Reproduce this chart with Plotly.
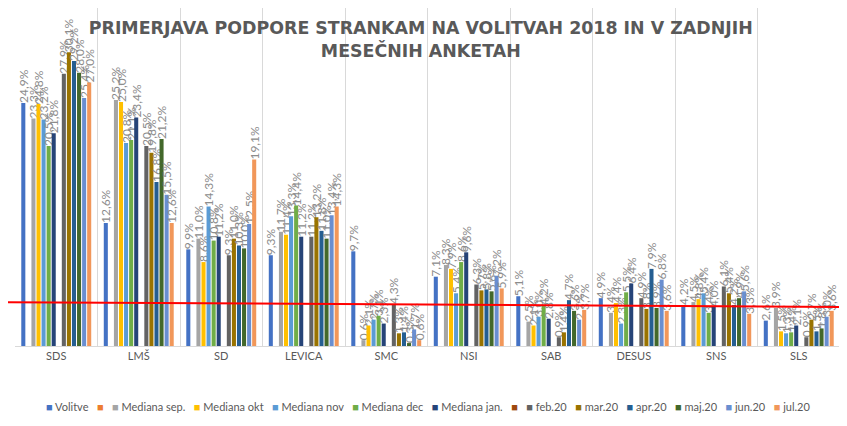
import plotly.graph_objects as go

stranke = ["SDS", "LMŠ", "SD", "LEVICA", "SMC", "NSI", "SAB", "DESUS", "SNS", "SLS"]

volitve = [24.9, 12.6, 9.9, 9.3, 9.7, 7.1, 5.1, 4.9, 4.2, 2.6]
med_sep = [23.3, 25.2, 11.0, 11.7, 0.6, 8.3, 2.5, 3.4, 4.5, 3.9]
med_okt = [24.8, 25.0, 8.6, 11.4, 2.1, 7.9, 2.1, 4.4, 4.8, 1.5]
med_nov = [23.2, 20.8, 14.3, 13.3, 2.7, 5.4, 3.0, 2.3, 5.4, 1.3]
med_dec = [20.5, 21.1, 10.8, 14.4, 3.1, 8.6, 4.2, 5.5, 3.4, 1.4]
med_jan = [21.8, 23.4, 11.2, 11.2, 2.3, 9.6, 2.8, 6.4, 4.0, 2.1]
feb20 = [27.9, 20.5, 9.3, 11.2, 4.3, 6.3, 0.9, 4.9, 6.1, 0.9]
mar20 = [30.1, 19.8, 11.0, 13.2, 1.3, 5.7, 1.4, 3.8, 5.4, 2.7]
apr20 = [29.2, 16.8, 10.3, 11.8, 1.4, 5.8, 4.7, 7.9, 4.2, 1.5]
maj20 = [28.0, 21.2, 10.0, 11.0, 0.3, 5.6, 3.6, 3.9, 4.9, 1.8]
jun20 = [25.4, 15.5, 12.5, 13.4, 1.7, 7.2, 2.7, 6.8, 5.6, 3.0]
jul20 = [27.0, 12.6, 19.1, 14.3, 0.6, 5.9, 3.7, 3.6, 3.3, 3.6]
prazno = [None] * len(stranke)

# (ime, podatki, barva) - dve prazni seriji sta v izvirniku brez imena
serije = [
    ("Volitve", volitve, "#4472C4"),
    ("", prazno, "#ED7D31"),
    ("Mediana sep.", med_sep, "#A5A5A5"),
    ("Mediana okt", med_okt, "#FFC000"),
    ("Mediana nov", med_nov, "#5B9BD5"),
    ("Mediana dec", med_dec, "#70AD47"),
    ("Mediana jan.", med_jan, "#264478"),
    ("", prazno, "#9E480E"),
    ("feb.20", feb20, "#636363"),
    ("mar.20", mar20, "#997300"),
    ("apr.20", apr20, "#255E91"),
    ("maj.20", maj20, "#43682B"),
    ("jun.20", jun20, "#698ED0"),
    ("jul.20", jul20, "#F1975A"),
]

prag = [4.5, 4.0]  # rdeča črta (levo, desno)

siva = "#595959"

fig = go.Figure()
for ime, vals, barva in serije:
    fig.add_trace(go.Bar(
        x=stranke,
        y=vals,
        name=ime,
        marker=dict(color=barva, line=dict(width=0)),
        text=[("%.1f%%" % v).replace(".", ",") if v is not None else "" for v in vals],
        textposition="outside",
        textangle=-90,
        constraintext="none",
        cliponaxis=False,
        textfont=dict(family="Lato", size=12, color="#8C8C8C"),
        showlegend=False,
    ))

# legenda kot en niz, da je v eni vrsti kot v izvirniku
deli = []
for ime, vals, barva in serije:
    kos = "<span style='color:%s'>■</span>" % barva
    if ime:
        kos += " " + ime
    deli.append(kos)
legenda = "&nbsp;&nbsp; ".join(deli)

fig.add_annotation(
    text=legenda, xref="paper", yref="paper", x=0.5, y=-0.18,
    xanchor="center", yanchor="middle", showarrow=False,
    font=dict(family="Lato", size=11, color=siva),
)

fig.add_shape(
    type="line", xref="paper", yref="y",
    x0=-0.018, x1=1.008, y0=prag[0], y1=prag[1],
    line=dict(color="#FF0000", width=2),
)

# stran ima privzeti rob 8 px, zato je slika za toliko manjša
fig.update_layout(
    width=839,
    height=418,
    margin=dict(l=7, r=7, t=0, b=80),
    plot_bgcolor="white",
    paper_bgcolor="white",
    barmode="group",
    bargap=0.14,
    bargroupgap=0.2,
    title=dict(
        text="PRIMERJAVA PODPORE STRANKAM NA VOLITVAH 2018 IN V ZADNJIH<br>MESEČNIH ANKETAH",
        x=0.492, xanchor="center", y=0.938, yanchor="middle",
        font=dict(family="DejaVu Sans", size=17.4, color=siva, weight="bold"),
    ),
    xaxis=dict(
        tickson="boundaries", showgrid=True, gridcolor="#D9D9D9",
        showline=True, linecolor="#D9D9D9", ticks="",
        tickfont=dict(family="Lato", size=11, color=siva),
    ),
    yaxis=dict(range=[0, 34.63], visible=False, showgrid=False),
)

fig.write_html("out.html")
